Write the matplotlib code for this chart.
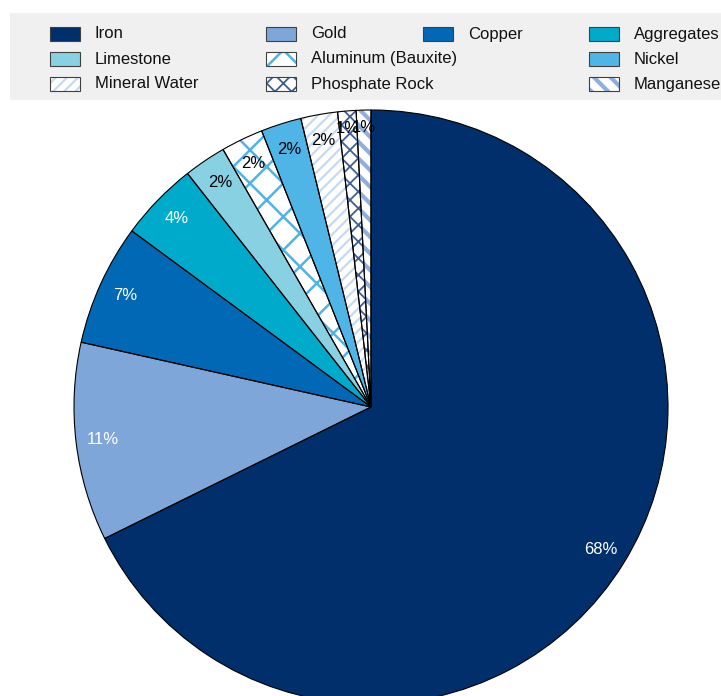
import matplotlib
matplotlib.use('Agg')
import matplotlib.pyplot as plt
from matplotlib.patches import Rectangle

# Share of each mineral (percent)
minerals = ['Iron', 'Gold', 'Copper', 'Aggregates', 'Limestone',
            'Aluminum (Bauxite)', 'Nickel', 'Mineral Water',
            'Phosphate Rock', 'Manganese']
shares = [67.7, 10.8, 6.6, 4.3, 2.3, 2.3, 2.2, 2.0, 1.0, 0.8]

# Fill style per mineral
face_colors = ['#002f6c', '#7ea6d9', '#0068b4', '#00aacb', '#88d1e3',
               'white', '#4fb4e6', 'white', 'white', 'white']
hatches = [None, None, None, None, None, 'x', None, '///', 'xx', '\\\\']
hatch_colors = ['#002f6c', '#7ea6d9', '#0068b4', '#00aacb', '#88d1e3',
                '#4fb3e6', '#4fb4e6', '#c6daf2', '#3d5f91', '#8fb0dd']
hatch_widths = [1, 1, 1, 1, 1, 1.8, 1, 1.6, 1.3, 3.0]
label_colors = ['white'] * 4 + ['black'] * 6

# Legend grid: (column x of handle, row y) in pixels
legend_slots = [(50, 34), (266, 34), (423, 34), (589, 34),
                (50, 59), (266, 59), (589, 59),
                (50, 84), (266, 84), (589, 84)]

W, H = 721, 696
plt.rcParams['font.family'] = ['Liberation Sans', 'DejaVu Sans']

fig = plt.figure(figsize=(W / 100, H / 100), dpi=100)

# pie axes: center (371, 407), radius 297 px
r = 297
cx, cy = 371, 407
ax = fig.add_axes([(cx - r) / W, 1 - (cy + r) / H, 2 * r / W, 2 * r / H])

# first pass: fills and hatches
wedges, _ = ax.pie(shares, startangle=90, counterclock=False, radius=1,
                   wedgeprops=dict(linewidth=0))
for w, fc, h, hc, hw in zip(wedges, face_colors, hatches, hatch_colors, hatch_widths):
    w.set_facecolor(fc)
    w.set_edgecolor(hc)
    if h:
        w.set_hatch(h)
        if hasattr(w, 'set_hatch_linewidth'):
            w.set_hatch_linewidth(hw)

# second pass: black outlines and percentage labels
outlines, _, pct_texts = ax.pie(shares, startangle=90, counterclock=False, radius=1,
                                autopct='%.0f%%', pctdistance=0.91,
                                wedgeprops=dict(facecolor='none', edgecolor='black',
                                                linewidth=0.8),
                                textprops=dict(fontsize=12))
for t, c, s in zip(pct_texts, label_colors, shares):
    t.set_color(c)
    # the thinnest slices carry their labels a little further out
    if s < 1.5:
        x, y = t.get_position()
        t.set_position((x * 1.035, y * 1.035))

ax.set_xlim(-1, 1)
ax.set_ylim(-1, 1)
ax.set_aspect('equal')
ax.axis('off')

# legend panel
fig.patches.append(Rectangle((10 / W, 1 - 100 / H), 1, 87 / H,
                             transform=fig.transFigure, facecolor='#f0f0f0',
                             edgecolor='none', zorder=0))
hw_px, hh_px = 30, 14
for name, (x, y), fc, h, hc, hw in zip(minerals, legend_slots, face_colors,
                                       hatches, hatch_colors, hatch_widths):
    box = Rectangle((x / W, 1 - (y + hh_px / 2) / H), hw_px / W, hh_px / H,
                    transform=fig.transFigure, facecolor=fc, edgecolor=hc,
                    linewidth=0, hatch=h, zorder=2)
    if h and hasattr(box, 'set_hatch_linewidth'):
        box.set_hatch_linewidth(hw)
    fig.patches.append(box)
    fig.patches.append(Rectangle((x / W, 1 - (y + hh_px / 2) / H), hw_px / W, hh_px / H,
                                 transform=fig.transFigure, facecolor='none',
                                 edgecolor='#404040', linewidth=0.8, zorder=3))
    fig.text((x + 45) / W, 1 - y / H, name, fontsize=12, va='center', ha='left',
             color='#111111')

fig.savefig('out.png', dpi=100)
